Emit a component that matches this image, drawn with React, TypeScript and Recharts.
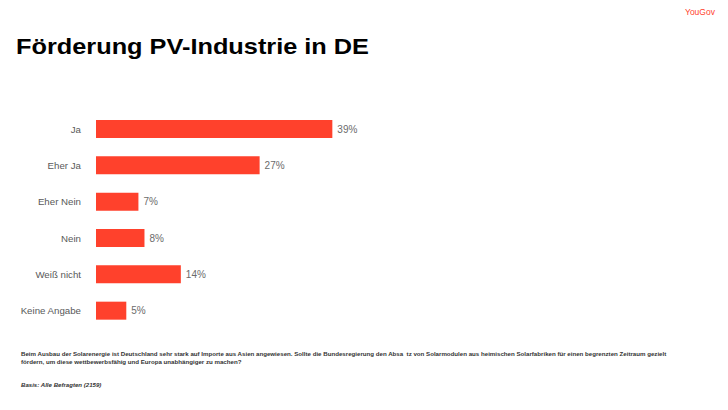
import React from "react";
import { BarChart, Bar, XAxis, YAxis, LabelList } from "recharts";

const answers = ["Ja", "Eher Ja", "Eher Nein", "Nein", "Weiß nicht", "Keine Angabe"];
const shares = [39, 27, 7, 8, 14, 5];

const title = "Förderung PV-Industrie in DE";
const question =
  "Beim Ausbau der Solarenergie ist Deutschland sehr stark auf Importe aus Asien angewiesen. Sollte die Bundesregierung den Absa  tz von Solarmodulen aus heimischen Solarfabriken für einen begrenzten Zeitraum gezielt";
const question2 = "fördern, um diese wettbewerbsfähig und Europa unabhängiger zu machen?";
const basis = "Basis: Alle Befragten (2159)";

const rows = answers.map((name, i) => ({ name, value: shares[i] }));

const RED = "#FF412C";
const FONT = "'Liberation Sans', Arial, sans-serif";

export default function App() {
  return (
    <div
      style={{
        position: "absolute",
        left: 0,
        top: 0,
        width: 728,
        height: 410,
        background: "#fff",
        fontFamily: FONT,
        overflow: "hidden",
      }}
    >
      <div
        style={{
          position: "absolute",
          left: 685,
          top: 7,
          fontSize: 8.5,
          color: RED,
          lineHeight: "10px",
        }}
      >
        YouGov
      </div>
      <svg
        width={728}
        height={70}
        style={{ position: "absolute", left: 0, top: 0 }}
      >
        <text
          x={16}
          y={54}
          fontSize={22}
          fontWeight="bold"
          fontFamily={FONT}
          fill="#000"
          textLength={353}
          lengthAdjust="spacingAndGlyphs"
        >
          {title}
        </text>
      </svg>

      <div style={{ position: "absolute", left: 0, top: 111 }}>
        <BarChart
          width={728}
          height={218}
          data={rows}
          layout="vertical"
          margin={{ top: 0, right: 26, bottom: 0, left: 0 }}
        >
          <XAxis type="number" domain={[0, 100]} hide />
          <YAxis
            type="category"
            dataKey="name"
            width={96}
            axisLine={false}
            tickLine={false}
            tickSize={0}
            tickMargin={15}
            interval={0}
            tick={{ fontSize: 9.7, fill: "#595959", fontFamily: FONT }}
          />
          <Bar dataKey="value" fill={RED} barSize={18} isAnimationActive={false}>
            <LabelList
              dataKey="value"
              position="right"
              offset={5}
              formatter={(v: number) => `${v}%`}
              style={{ fontSize: 10, fill: "#6b6b6b", fontFamily: FONT }}
            />
          </Bar>
        </BarChart>
      </div>

      <div
        style={{
          position: "absolute",
          left: 21,
          top: 350,
          fontSize: 6.15,
          fontWeight: "bold",
          color: "#333",
          lineHeight: "8px",
          whiteSpace: "pre",
        }}
      >
        {question}
        {"\n"}
        {question2}
      </div>
      <div
        style={{
          position: "absolute",
          left: 21,
          top: 381,
          fontSize: 6.1,
          fontWeight: "bold",
          fontStyle: "italic",
          color: "#333",
          lineHeight: "8px",
          whiteSpace: "nowrap",
        }}
      >
        {basis}
      </div>
    </div>
  );
}
